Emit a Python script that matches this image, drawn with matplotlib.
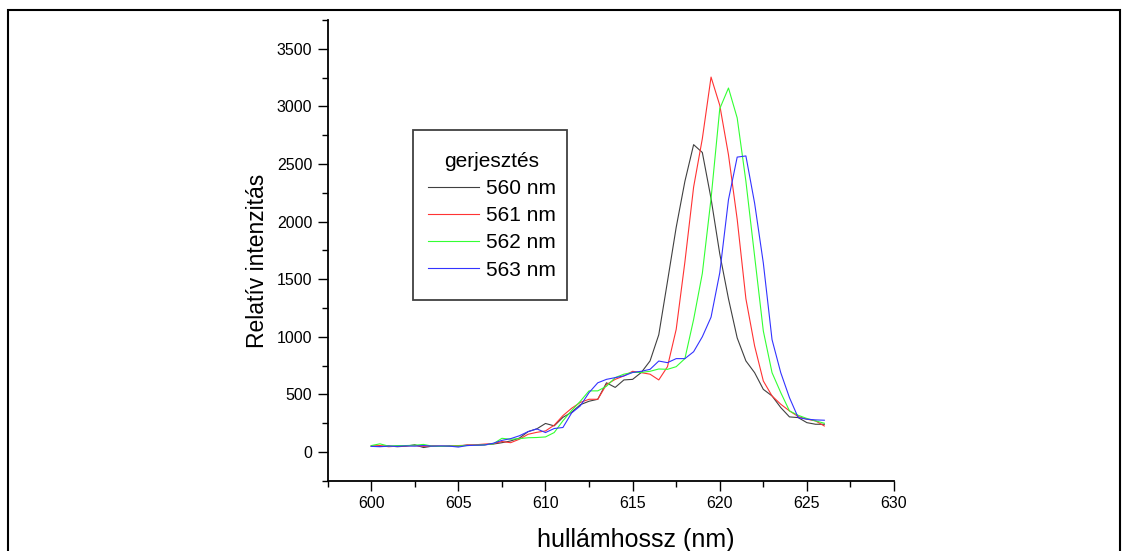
import matplotlib
matplotlib.use("Agg")
import matplotlib.pyplot as plt
from matplotlib.patches import Rectangle
from matplotlib.ticker import MultipleLocator

plt.rcParams['font.family'] = ['Liberation Sans', 'DejaVu Sans']

# hullámhossz, 0.5 nm lépésköz
wl = [600 + 0.5 * i for i in range(53)]

ex_560 = [50, 48, 52, 45, 50, 62, 38, 50, 48, 52, 50, 60, 58, 62, 68, 80,
          95, 120, 176, 200, 247, 226, 300, 344, 410, 440, 457, 600, 560,
          625, 630, 690, 790, 1017, 1480, 1950, 2350, 2668, 2600, 2200,
          1720, 1330, 990, 790, 688, 543, 486, 385, 304, 298, 254, 240, 240]
ex_561 = [50, 55, 45, 50, 52, 55, 48, 52, 50, 48, 55, 58, 62, 68, 72, 90,
          80, 110, 153, 170, 182, 232, 315, 379, 430, 457, 457, 585, 630,
          660, 700, 688, 675, 625, 740, 1064, 1650, 2300, 2720, 3255, 3010,
          2580, 2020, 1330, 920, 616, 486, 414, 356, 307, 284, 269, 225]
ex_562 = [55, 70, 50, 55, 55, 58, 65, 50, 48, 50, 52, 55, 58, 62, 70, 118,
          110, 115, 123, 125, 130, 168, 270, 359, 440, 530, 530, 570, 645,
          675, 690, 690, 700, 720, 717, 740, 810, 1150, 1550, 2200, 2980,
          3160, 2900, 2350, 1700, 1050, 688, 515, 356, 318, 290, 269, 249]
ex_563 = [48, 45, 50, 48, 52, 50, 55, 50, 52, 50, 42, 55, 58, 60, 75, 100,
          115, 140, 176, 200, 168, 203, 212, 338, 400, 515, 600, 630, 645,
          660, 690, 700, 717, 789, 775, 810, 810, 870, 1000, 1170, 1555,
          2190, 2560, 2570, 2160, 1640, 975, 688, 471, 298, 284, 278, 275]

series = [ex_560, ex_561, ex_562, ex_563]
labels = ['560 nm', '561 nm', '562 nm', '563 nm']
colors = ['#404040', '#ff3333', '#33ff33', '#3333ff']

fig = plt.figure(figsize=(11.24, 5.51), dpi=100)
ax = fig.add_axes([0.2915, 0.1276, 0.5039, 0.836])

for y, lab, c in zip(series, labels, colors):
    ax.plot(wl, y, color=c, lw=0.8, label=lab)

ax.set_xlim(597.5, 630)
ax.set_ylim(-250, 3750)
ax.xaxis.set_major_locator(MultipleLocator(5))
ax.xaxis.set_minor_locator(MultipleLocator(2.5))
ax.yaxis.set_major_locator(MultipleLocator(500))
ax.yaxis.set_minor_locator(MultipleLocator(250))
ax.tick_params(which='major', direction='out', length=7, width=1,
               labelsize=11.5, pad=4)
ax.tick_params(which='minor', direction='out', length=4, width=1)
# csak a bal és alsó tengely
ax.spines['top'].set_visible(False)
ax.spines['right'].set_visible(False)
for s in ['left', 'bottom']:
    ax.spines[s].set_linewidth(1.3)

ax.set_xlabel('hullámhossz (nm)', fontsize=18)
ax.xaxis.set_label_coords(0.544, -0.103)
ax.set_ylabel('Relatív intenzitás', fontsize=16.5)
ax.yaxis.set_label_coords(-0.1034, 0.477)

# jelmagyarázat keret nélkül, a keretet külön rajzolom
leg = ax.legend(title='gerjesztés', loc='upper left',
                bbox_to_anchor=(0.177, 0.7133), borderaxespad=0,
                fontsize=15, title_fontsize=15, frameon=False,
                handlelength=2.45, handletextpad=0.35, labelspacing=0.39,
                borderpad=0)
ax.add_patch(Rectangle((0.1506, 0.3922), 0.272, 0.369,
                       transform=ax.transAxes, fill=False,
                       edgecolor='#404040', lw=1.3))

# külső keret
fig.patches.append(Rectangle((8 / 1124, -0.1), 1112 / 1124, 1.1 - 10 / 551,
                             transform=fig.transFigure, fill=False,
                             edgecolor='black', lw=1.5))

fig.savefig('out.png', dpi=100)
